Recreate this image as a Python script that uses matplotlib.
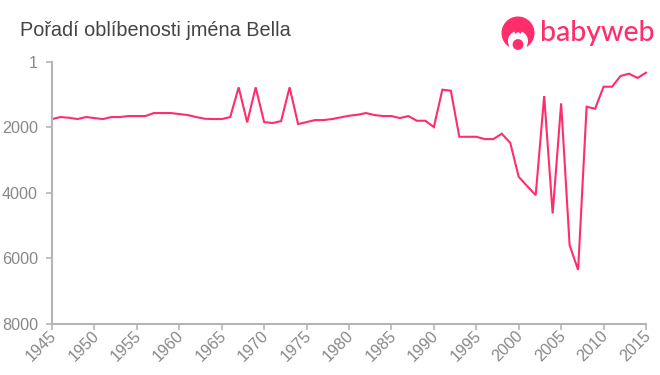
#!/usr/bin/env python3

import matplotlib
matplotlib.use("Agg")
import matplotlib.pyplot as plt
from matplotlib.patches import Circle, Ellipse, Polygon, Rectangle
from matplotlib.transforms import ScaledTranslation

years = list(range(1945, 2016))
ranks = [1743, 1682, 1703, 1743, 1682, 1712, 1743, 1682, 1682, 1651,
         1651, 1651, 1560, 1560, 1560, 1590, 1620, 1682, 1733, 1743,
         1743, 1682, 775, 1845, 775, 1835, 1865, 1804, 775, 1896,
         1835, 1774, 1774, 1743, 1692, 1642, 1611, 1560, 1620, 1651,
         1651, 1712, 1651, 1795, 1795, 1988, 846, 877, 2284, 2284,
         2284, 2355, 2355, 2192, 2467, 3507, 3792, 4067, 1040, 4627,
         1263, 5596, 6350, 1367, 1428, 755, 755, 428, 358, 489, 327]
x_ticks = list(range(1945, 2016, 5))
y_ticks = [1, 2000, 4000, 6000, 8000]

PINK = "#ff2d6b"
AXIS = "#b5b5b5"
plt.rcParams["font.family"] = ["Liberation Sans", "DejaVu Sans"]

fig = plt.figure(figsize=(6.6, 3.75), dpi=100)
ax = fig.add_axes([52 / 660, 1 - 324 / 375, 594 / 660, 262 / 375])
ax.plot(years, ranks, color=PINK, lw=1.5, solid_joinstyle="miter", clip_on=False)
ax.set_xlim(1945, 2015)
ax.set_ylim(8000, 1)
ax.set_xticks(x_ticks)
ax.set_yticks(y_ticks)
ax.set_xticklabels([str(y) for y in x_ticks], rotation=45, ha="right", va="top", rotation_mode="anchor")
ax.tick_params(colors="#888888", labelsize=11.6, color=AXIS, width=1.2, length=4, pad=6)
ax.tick_params(axis="x", pad=-1)
# pull the slanted year labels a bit to the left of their ticks
shift = ScaledTranslation(-3 / 100, 0, fig.dpi_scale_trans)
for label in ax.get_xticklabels():
    label.set_transform(label.get_transform() + shift)
for side in ["top", "right"]:
    ax.spines[side].set_visible(False)
for side in ["left", "bottom"]:
    ax.spines[side].set_color(AXIS)
    ax.spines[side].set_linewidth(1.5)

fig.text(20 / 660, 1 - 30 / 375, "Pořadí oblíbenosti jména Bella", color="#444444",
         fontsize=14.3, va="center", ha="left")

# logo, drawn in pixel coordinates
logo = fig.add_axes([0, 0, 1, 1], facecolor="none")
logo.set_xlim(0, 660)
logo.set_ylim(375, 0)
logo.axis("off")
logo.add_patch(Circle((518, 33), 16.5, color=PINK, lw=0))
logo.add_patch(Ellipse((518, 41), 20, 20, color="white", lw=0))
logo.add_patch(Rectangle((509, 43.5), 18, 8, color="white", lw=0))
logo.add_patch(Polygon([(514, 28), (522, 28), (521, 34), (518, 32), (515, 34)], color=PINK, lw=0))
logo.add_patch(Circle((518, 44.5), 5.4, color=PINK, lw=0))
logo.text(540, 33, "babyweb", color=PINK, fontsize=20.5, family="Lato", weight=500, va="center", ha="left")

fig.savefig("out.png", dpi=100)
